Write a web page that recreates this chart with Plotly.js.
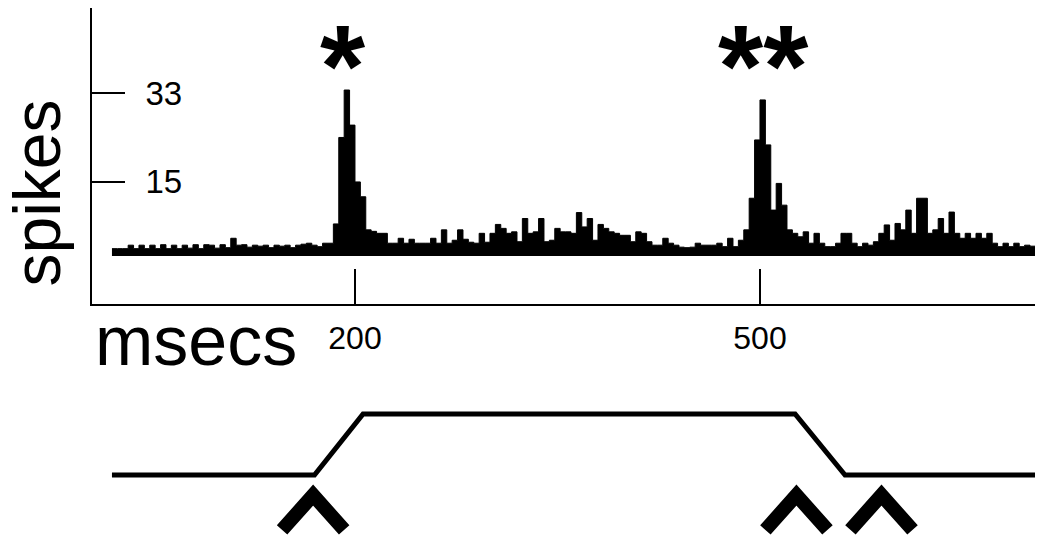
<!DOCTYPE html>
<html>
<head>
<meta charset="utf-8">
<script src="https://cdn.plot.ly/plotly-3.0.1.min.js"></script>
<style>
  html, body { margin: 0; padding: 0; background: #fff; }
  #chart { width: 1050px; height: 541px; }
</style>
</head>
<body>
<div id="chart"></div>
<script>
// spike counts, one value per 4 ms bin, first bin starts at 20 ms
var binStart = 20;
var binWidth = 4;
var spikeCounts = [
  1.5, 1.5, 1.5, 2.2, 1.5, 2.2, 1.5, 2.2, 1.5, 2.3,
  1.5, 2.2, 1.5, 2.2, 1.6, 2.3, 1.5, 2.3, 2.2, 1.6,
  2.3, 1.7, 3.6, 2.2, 2.3, 1.8, 2.2, 2.0, 2.2, 1.7,
  2.2, 2.0, 2.2, 1.7, 2.2, 2.4, 2.6, 2.2, 1.9, 2.6,
  2.6, 6.5, 24, 33.6, 26.5, 15, 12, 5.3, 5, 4.6,
  4.6, 2.6, 2.6, 3.6, 2.6, 3.4, 2.6, 2.6, 2.6, 3.6,
  2.6, 5.3, 2.6, 3.2, 5.3, 3.4, 2.8, 2.6, 4.6, 2.8,
  4.6, 6.4, 5.6, 4.6, 4.9, 2.9, 7.6, 4.6, 4.9, 7.6,
  2.9, 3.2, 5.6, 4.9, 4.9, 4.6, 8.8, 5.9, 7.6, 3.2,
  6.4, 5.6, 4.9, 4.6, 4.2, 4.2, 2.9, 4.9, 4.6, 2.9,
  2.2, 2.2, 3.6, 2.6, 2.2, 1.8, 1.7, 1.8, 2.6, 2.2,
  2.2, 2.2, 2.6, 1.9, 3.6, 1.9, 3.2, 5.3, 11.7, 23.5,
  31.6, 22.5, 9.3, 14.7, 10.3, 5.3, 4.6, 3.9, 4.9, 2.6,
  4.6, 2.6, 1.9, 1.9, 2.6, 4.6, 4.6, 2.6, 1.9, 2.6,
  2.2, 2.9, 4.6, 6.3, 3.2, 6.6, 5.3, 9.3, 4.6, 11.7,
  11.7, 4.6, 5.3, 7.6, 4.6, 8.9, 4.6, 3.6, 4.6, 3.6,
  4.6, 3.6, 4.6, 2.6, 1.9, 2.6, 1.9, 2.6, 1.9, 2.2,
  2.0
];

// stimulus trace below the histogram (ms, level)
var stimTimes = [20, 170, 206, 526, 563, 705];
var stimLevels = [0, 0, 1, 1, 0, 0];

// carets under the stimulus trace (ms)
var caretTimes = [169, 527, 590];

var xTicks = [200, 500];
var yTicks = [15, 33];

// step outline of the histogram
var edges = [];
var steps = [];
for (var i = 0; i < spikeCounts.length; i++) {
    edges.push(binStart + binWidth * i);
    steps.push(spikeCounts[i]);
}
edges.push(binStart + binWidth * spikeCounts.length);
steps.push(spikeCounts[spikeCounts.length - 1]);

// caret chevrons
var caretHalf = 23;
var caretX = [];
var caretY = [];
caretTimes.forEach(function (t) {
    caretX.push(t - caretHalf, t, t + caretHalf, null);
    caretY.push(-0.9, -0.33, -0.9, null);
});

var font = 'Liberation Sans, Arial, Helvetica, sans-serif';

var hist = {
    x: edges,
    y: steps,
    type: 'scatter',
    mode: 'lines',
    line: {shape: 'hv', color: 'black', width: 1},
    fill: 'tozeroy',
    fillcolor: 'black',
    hoverinfo: 'skip'
};

var stim = {
    x: stimTimes,
    y: stimLevels,
    xaxis: 'x2',
    yaxis: 'y2',
    type: 'scatter',
    mode: 'lines',
    line: {color: 'black', width: 5},
    hoverinfo: 'skip'
};

var carets = {
    x: caretX,
    y: caretY,
    xaxis: 'x2',
    yaxis: 'y2',
    type: 'scatter',
    mode: 'lines',
    connectgaps: false,
    line: {color: 'black', width: 14},
    hoverinfo: 'skip'
};

var layout = {
    width: 1050,
    height: 541,
    margin: {l: 0, r: 0, t: 0, b: 0},
    paper_bgcolor: 'white',
    plot_bgcolor: 'white',
    showlegend: false,
    font: {family: font, color: 'black'},
    xaxis: {
        domain: [0.0876, 0.9857],
        range: [5.2, 703.7],
        anchor: 'y',
        showline: true,
        linecolor: 'black',
        linewidth: 2,
        ticks: 'inside',
        ticklen: 35,
        tickwidth: 2,
        tickcolor: 'black',
        tickvals: xTicks,
        ticktext: xTicks.map(String),
        tickfont: {size: 32, family: font, color: 'black'},
        ticklabelstandoff: 5,
        showgrid: false,
        zeroline: false
    },
    yaxis: {
        domain: [0.4381, 0.9852],
        range: [-9.7, 50.2],
        anchor: 'x',
        showline: true,
        linecolor: 'black',
        linewidth: 2,
        ticks: 'inside',
        ticklen: 33,
        tickwidth: 2,
        tickcolor: 'black',
        tickvals: yTicks,
        ticktext: yTicks.map(String),
        ticklabelposition: 'inside',
        ticklabelstandoff: 24,
        tickfont: {size: 33, family: font, color: 'black'},
        showgrid: false,
        zeroline: false
    },
    xaxis2: {
        domain: [0.0876, 0.9857],
        range: [5.2, 703.7],
        anchor: 'y2',
        visible: false
    },
    yaxis2: {
        domain: [0, 0.2976],
        range: [-1.082, 1.557],
        anchor: 'x2',
        visible: false
    },
    annotations: [
        {text: '*', xref: 'paper', yref: 'paper', x: 0.3267, y: 1,
         xanchor: 'center', yanchor: 'top',
         showarrow: false, font: {size: 116, weight: 'bold', family: font}},
        {text: '**', xref: 'paper', yref: 'paper', x: 0.7276, y: 1,
         xanchor: 'center', yanchor: 'top',
         showarrow: false, font: {size: 116, weight: 'bold', family: font}},
        {text: 'msecs', xref: 'paper', yref: 'paper', x: 0.1867, y: 0.3697,
         xanchor: 'center', yanchor: 'middle',
         showarrow: false, font: {size: 70, family: font}},
        {text: 'spikes', xref: 'paper', yref: 'paper', x: 0.0352, y: 0.644,
         xanchor: 'center', yanchor: 'middle',
         textangle: -90, showarrow: false, font: {size: 66, family: font}}
    ]
};

Plotly.newPlot('chart', [hist, stim, carets], layout, {displayModeBar: false, staticPlot: true});
</script>
</body>
</html>
